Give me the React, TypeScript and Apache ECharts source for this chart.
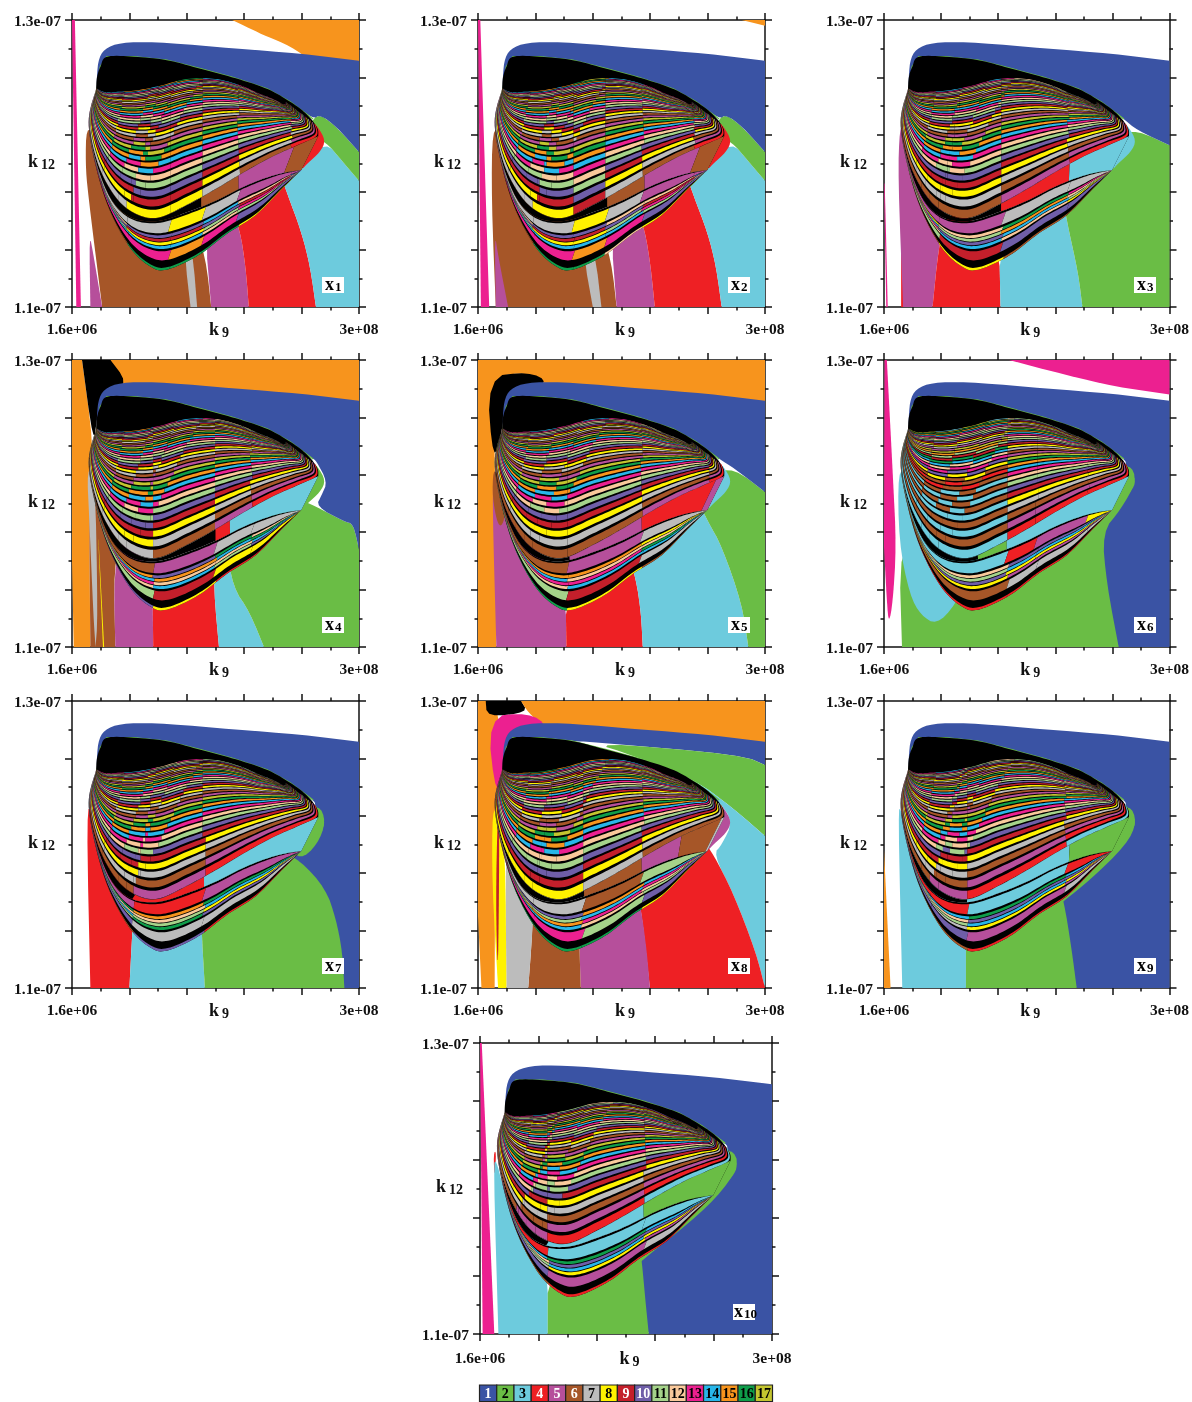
import React, { useEffect, useRef } from "react";
import * as echarts from "echarts";

type Pt = [number, number];
const FONT = '"Liberation Serif"';

// colour of each attractor period, 1..17
const periodLabels = ["1","2","3","4","5","6","7","8","9","10","11","12","13","14","15","16","17"];
const periodColors = ["#3a53a4","#6abd45","#6dcbdd","#ee2024","#b64f9b","#a65628","#bcbcbc","#fff200","#c41f2b","#6f5ea8","#a5d38a","#f9c99b","#ec2090","#28b6e9","#f7941d","#0f9d4a","#c3c52f"];
const legendTextColors = ["#fff","#000","#000","#fff","#fff","#fff","#000","#000","#fff","#fff","#000","#000","#000","#000","#000","#000","#000"];

// k9 / k12 tick labels (axes run over the panel's fractional range 0..100)
const k9Ends = ["1.6e+06", "3e+08"];
const k12Ends = ["1.1e-07", "1.3e-07"];

// Shared outlines, as % of the axis ranges
const capTop: Pt[] = [[8.7,75.6],[8.6,80],[9.3,87],[12.2,90.7],[19.2,92.4],[33,92.1],[56.4,90.1],[79.7,88.3],[100,85.8]];
const hullEdge: Pt[] = [[84,65.5],[76,71.5],[68,76],[56,80],[44.8,83],[33,86],[21.5,87.2],[12.2,87.2],[9.9,83.7],[8.7,75.6]];
const tearTop: Pt[] = [[8.4,76],[8.7,80],[9.9,83.7],[12.2,87.2],[21.5,87.2],[33,86],[44.8,83],[56,80],[68,76],[76,71.5],[80.5,68.3],[83.5,65.3],[85.6,62],[85.8,59.5]];
const hookShape: Pt[] = [[78,60],[84,64],[85.5,63],[88.4,58],[86.5,54],[82,50],[79.9,47.7],[75,50]];

const lobeOuter: Pt[] = [[8.4,76],[5.8,64.5],[8.3,49],[13,34],[20,21],[27,14.3],[33,13],[44,18],[54,25.5],[64,32],[73,41],[79.9,47.7]];
const lobeInner: Pt[] = [[8.4,76],[6,64],[8.7,49.5],[14,37],[21,31],[30,30],[40,33],[50,37],[60,42],[69,45.5],[75,47],[79.9,47.7]];
const gapUpper: Pt[] = [[8.4,76],[6.2,64],[9,50],[15,38.5],[22,32.5],[30,31],[40,35.5],[50,41],[60,47],[70,52.5],[79,56.5],[85.8,59.5]];
const upperOuter: Pt[] = [[8.4,76],[6.2,64],[9,50],[15,38.5],[22,32.5],[30,31],[40,35.5],[50,41],[60,47],[70,52.5],[79,56.5],[85.3,59.5],[85,63.5]];
const upperTop: Pt[] = [[8.7,76.5],[9,76],[11,75],[15,75],[22,75.5],[30,77],[40,79.5],[50,79.5],[58,77.5],[65,74.5],[70,72.5],[74,70.5],[74.5,71.5]];

// stripe widths, bottom to top
const upperWidths = [9,7.5,6.5,6,5.5,5,4.6,4.2,3.8,3.5,3.2,3,2.8,2.6,2.4,2.2,2.1,2,1.8,1.7,1.6,1.5,1.4,1.3,1.2,1.1,1,1,0.9,0.9,0.8,0.8,0.7,0.7];
const lowerSlots: [number, number][] = [[0,0.8],[-1,2.4],[1,3],[-1,0.8],[2,1],[-1,0.3],[3,1],[-1,0.3],[4,1],[-1,0.3],[5,1],[-1,0.8],[6,4],[-1,0.8]];
// fan of leaning colour breaks in the upper-left of the lobe
const fanSeams: Pt[] = [[10,8],[13,14],[16,20],[19,26]];

// Large regions of each panel: [period, outline]
const blue = (lower: Pt[]): Pt[] => [...capTop, ...lower, ...hullEdge];

const regionsX1: [number, Pt[]][] = [
  [15,[[55.8,100],[62,97],[68,94.2],[76,91],[84.3,85],[100,80],[100,100]]],
  [13,[[0,100],[1,100],[3.1,0],[1.5,0]]],
  [6,[[5,62.8],[4.7,50],[5.5,40],[10.5,0],[48.5,0],[46.6,17.4],[42,30],[30,35],[15,50],[8,60]]],
  [5,[[6.4,0],[10.5,0],[7.5,18],[6,26]]],
  [7,[[39,20],[41.3,0],[43.6,0],[42,20]]],
  [5,[[48.5,0],[61.6,0],[60.5,14],[58.5,27],[55,35],[46,30]]],
  [4,[[61.6,0],[85,0],[83,14],[80,26],[75,39.5],[72,48],[55,35],[58.5,27],[60.5,14]]],
  [3,[[85,0],[100,0],[100,44],[94,51],[88.4,57.6],[80,50],[72,48],[75,39.5],[80,26],[83,14]]],
  [2,[[100,44],[100,54],[92,63],[85,68],[82,60],[88.4,57.6],[94,51]]],
  [1,blue([[100,54],[92,63],[86.5,67]])],
];
const regionsX2: [number, Pt[]][] = [
  [15,[[91.9,100],[100,100],[100,98]]],
  [13,[[0,100],[0.8,100],[3.9,0],[1,0]]],
  [6,[[5,62.8],[4.7,37],[6.2,0],[48.3,0],[46.5,16],[42,30],[30,35],[15,50],[8,60]]],
  [5,[[6.2,0],[10.5,0],[7,18],[5.8,26]]],
  [7,[[36.4,20],[40,0],[43,0],[40.7,20]]],
  [5,[[48.3,0],[61.6,0],[60.2,14],[58.1,27],[55,35],[46,30]]],
  [4,[[61.6,0],[84.9,0],[83,14],[80,26],[75,39],[72,48],[55,35],[58.1,27],[60.2,14]]],
  [3,[[84.9,0],[100,0],[100,44],[94,51],[88.4,57.6],[80,50],[72,48],[75,39],[80,26],[83,14]]],
  [2,[[100,44],[100,54],[92,63],[85,68],[82,60],[88.4,57.6],[94,51]]],
  [1,blue([[100,54],[92,63],[86.5,67]])],
];
const regionsX3: [number, Pt[]][] = [
  [13,[[0,43],[0.3,43],[1.3,0],[0.8,0]]],
  [4,[[6,0],[6.9,0],[6,40]]],
  [5,[[5.5,62.8],[4.9,45],[6.7,0],[17,0],[19,19.8],[22,35],[12,50],[7,62]]],
  [4,[[17,0],[40.8,0],[40.3,25],[22,35],[19,19.8]]],
  [3,[[40.8,0],[69.5,0],[68,12],[64,30],[62,42],[40.3,25]]],
  [2,[[69.5,0],[100,0],[100,56.4],[88.6,61.6],[82,60],[76,48],[62,42],[64,30],[68,12]]],
  [1,blue([[100,56.4],[88.6,61.6]])],
];
const regionsX4: [number, Pt[]][] = [
  [15,[[0.6,0],[6.4,0],[5.8,61],[7.5,70.3],[3.5,100],[0,100],[0,30]]],
  [15,[[13.4,100],[100,100],[100,80],[79.7,85],[56.4,87],[33,89],[17,90]]],
  [0,[[3.5,100],[13.4,100],[19.2,92.4],[14,88],[9.9,85],[8.7,79.7],[7.5,70.3]]],
  [6,[[6.4,0],[15.1,0],[14.5,28],[18,40],[8,62],[5.8,61]]],
  [7,[[5.2,62],[6,45],[7.5,10],[8.2,0],[9,10],[8,62]]],
  [8,[[10.8,0],[11.2,0],[8.6,50]]],
  [5,[[15.1,0],[28.3,0],[28,25],[18,40],[14.5,26]]],
  [4,[[28.3,0],[51.2,0],[49.4,20],[50,30],[28,25]]],
  [3,[[49.4,20],[51.2,0],[66.9,0],[62,12],[56,21],[54,35],[50,30]]],
  [2,[[100,0],[100,34],[98,43],[95,43.6],[85,49],[78,52],[54,35],[56,21],[62,12],[66.9,0]]],
  [1,blue([[100,34],[98,43],[95,43.6],[85,49],[87,53],[89,57.6],[85,65]])],
];
const regionsX5: [number, Pt[]][] = [
  [15,[[0,0],[6.4,0],[6,63],[5,94],[17.5,96],[25,89],[33,89],[56.4,87],[79.7,85],[100,80],[100,100],[0,100]]],
  [0,[[3,94],[17.5,96],[25,92.2],[14,87],[9,82],[8.5,76],[5.3,63.5]]],
  [5,[[6.4,0],[30.8,0],[30.5,20],[20,35],[10,50],[5.5,62],[5,50]]],
  [6,[[5.3,62],[5,52],[7,42],[9,43],[9.5,50],[7,60]]],
  [4,[[30.8,0],[57.4,0],[56.8,12],[55,24],[52,33],[30.5,20]]],
  [3,[[57.4,0],[94.2,0],[92,15],[85,35],[80,44],[76,52],[52,33],[55,24],[56.8,12]]],
  [2,[[94.2,0],[100,0],[100,54],[89,62.5],[82,60],[76,52],[80,44],[85,35],[92,15]]],
  [1,blue([[100,54],[89,62.5]])],
];
const regionsX6: [number, Pt[]][] = [
  [13,[[0.2,100],[1,100],[3.2,58],[4.3,35],[3.1,15.7],[1.7,8],[1,15.7],[0,35]]],
  [13,[[43.8,100],[100,100],[100,88],[81,90.7],[63.6,94.8]]],
  [1,[...capTop,[100,0],[82.2,0],[70,25],[72,45],[84,55],[85,64],...hullEdge]],
  [2,[[6.3,0],[82.2,0],[78,22],[76.4,40],[83,48],[88.6,58],[86,64],[80,60],[70,45],[45,28],[30,25],[17,35],[5.2,36.6]]],
  [3,[[4.9,62],[5.2,36.6],[9,18],[13,11],[18.3,7.8],[25,14.5],[32,30],[40,34],[20,45],[8,60]]],
];
const regionsX7: [number, Pt[]][] = [
  [4,[[5,62.6],[6.4,0],[20,0],[21,19.5],[22,35],[15,50],[7,62]]],
  [3,[[20,0],[46.3,0],[45.3,17],[45,28],[22,35],[21,19.5]]],
  [1,[...capTop,[100,0],[94.9,0],[80,30],[75,46],[84,55],[85,64],...hullEdge]],
  [2,[[46.3,0],[94.9,0],[94.2,12.6],[92,24],[88.4,34.6],[79.5,44.5],[72,48],[45,28],[45.3,17]]],
  [2,[[79.5,44.5],[85.5,50],[88.5,58],[86,64],[80,60],[75,50]]],
];
const regionsX8: [number, Pt[]][] = [
  [15,[[1.2,0],[5.8,0],[6,60],[8,88],[6,100],[0,100],[0,25]]],
  [0,[[2.7,100],[15,100],[17.5,96],[3.1,94.4]]],
  [15,[[15,100],[100,100],[100,80],[79.7,85],[56.4,87],[33,89],[24,90],[17.5,96]]],
  [13,[[3.1,94.4],[17.5,96],[25,91],[14,85],[10,78],[6.4,65]]],
  [1,[...capTop,[100,77.7],[91.9,81.2],[39,85.8],...hullEdge.slice(5)]],
  [2,[[39,85.8],[91.9,81.2],[100,77.7],[100,53],[89,62.6],[75,73],[54,81]]],
  [3,[[100,53],[100,0],[97,12],[89,33],[82,46.6],[85,50],[88.8,58],[84,65],[75,71.5],[60,78.5],[54,81],[75,73],[89,62.6]]],
  [4,[[59.9,0],[57,26.5],[55,35],[78,52],[82,46.6],[89,33],[97,12],[100,0]]],
  [5,[[35.8,0],[59.9,0],[58.8,13],[57,26.5],[55,35],[35,25]]],
  [6,[[17.5,0],[35.8,0],[35,25],[19,32],[19,20]]],
  [7,[[9.9,0],[17.5,0],[19,20],[20,40],[12,50],[9.5,50]]],
  [8,[[5,63],[4.9,36],[7,0],[9.9,0],[9.5,50],[7,60]]],
  [9,[[6.8,60],[6.2,30],[6.9,3],[7.3,30],[7.4,60]]],
];
const regionsX9: [number, Pt[]][] = [
  [15,[[0,48],[0,0],[2.3,0]]],
  [3,[[4.9,62.6],[6.4,0],[28.7,0],[28.7,25],[19,35],[10,50],[6,62]]],
  [1,[...capTop,[100,0],[67.5,0],[55,25],[70,45],[84,55],[85,64],...hullEdge]],
  [2,[[28.7,0],[67.5,0],[65.5,15],[63,30.3],[60,40],[28.7,25]]],
  [2,[[60,28],[63,30.3],[72,37.5],[85,50],[88.6,58],[86,64],[80,60],[72,48],[58,35]]],
];
const regionsX10: [number, Pt[]][] = [
  [13,[[0,100],[0.6,100],[4.9,0],[0.9,0]]],
  [4,[[4.6,62],[5.6,63],[5,53]]],
  [3,[[4.6,58],[6.3,0],[23.2,0],[23.2,25],[15,38],[8,50],[5.5,60]]],
  [1,[...capTop,[100,0],[57.8,0],[50,25],[70,45],[84,55],[85,64],...hullEdge]],
  [2,[[23.2,0],[57.8,0],[56.6,12],[55.4,25.3],[54,35],[23.2,25]]],
  [2,[[50,20],[55.4,25.3],[68,35.2],[81,46.6],[89,58],[86,64],[80,60],[72,48],[60,35],[50,30]]],
];

// Vertical colour seams: [k9 position, lean towards the top]
const seamsX1: Pt[] = [[19,11],[34,0],[45,0],[57.5,0],[76,0]];
const seamsX2: Pt[] = [[19,10],[33,0],[44,0],[57,0],[75,0]];
const seamsX3: Pt[] = [[19,8],[41,0],[64,0]];
const seamsX4: Pt[] = [[28,0],[49.6,0],[62,0]];
const seamsX5: Pt[] = [[31,0],[56.6,0],[80,0]];
const seamsX6: Pt[] = [[42.7,0],[53,0],[71,0]];
const seamsX7: Pt[] = [[21,8],[45.5,0]];
const seamsX8: Pt[] = [[19,8],[36,0],[57,0]];
const seamsX9: Pt[] = [[16,12],[29,0],[63,0]];
const seamsX10: Pt[] = [[12,14],[23,0],[56,0]];

// Upper-lobe stripes per column: a starting period (rising by one per stripe) or an explicit cycle
const upperX1 = [7,8,8,7,6,4];
const upperX2 = [7,8,9,7,6,4];
const upperX3 = [6,6,5,4];
const upperX4 = [7,6,5,4];
const upperX5 = [6,6,5,4];
const upperX6: (number | number[])[] = [[3,6,3,6,3,6,3,6,3,6,4,6,8,10,13,12,14,16,9,11,15,17,5,7,8,9,10,11,12,13,14,15,16,17],4,4,4];
const upperX7 = [6,5,4];
const upperX8 = [8,8,7,6];
const upperX9 = [6,5,4,3];
const upperX10 = [6,5,4,3];

// Tongue stripes per column: [edge, main, four thin, main]
const lowerX1 = [[6,13,14,11,10,12,7],[16,13,14,8,9,10,7],[16,15,14,8,9,10,8],[16,13,12,11,10,14,7],[8,10,11,13,9,12,5],[8,10,11,12,13,14,5]];
const lowerX2 = [[6,13,14,11,10,12,7],[16,13,14,8,9,10,7],[16,15,14,8,9,10,8],[12,13,14,11,10,12,7],[8,10,11,13,9,12,5],[8,10,11,12,13,14,5]];
const lowerX3 = [[6,11,12,13,14,8,5],[8,9,14,10,11,12,5],[6,10,12,14,15,16,7],[6,10,8,11,12,13,7]];
const lowerX4 = [[10,11,12,13,14,15,6],[8,9,14,12,15,10,5],[4,8,11,12,14,16,7],[4,8,10,14,16,12,7]];
const lowerX5 = [[16,11,12,13,14,15,6],[8,9,14,13,12,15,5],[6,7,14,16,12,8,7],[6,7,14,8,12,16,8]];
const lowerX6 = [[4,6,8,10,11,12,3],[4,7,5,8,14,10,4],[4,7,5,8,14,10,5],[4,7,5,8,14,10,8]];
const lowerX7 = [[6,10,11,14,12,16,5],[10,7,16,11,12,15,4],[4,7,10,8,14,16,5]];
const lowerX8 = [[16,13,14,15,11,10,7],[16,13,14,15,11,10,7],[16,11,12,13,14,15,6],[8,10,11,12,13,14,11]];
const lowerX9 = [[6,10,7,11,12,14,4],[6,10,7,11,12,14,4],[4,5,8,14,10,16,3],[4,7,5,8,10,14,4]];
const lowerX10 = [[6,10,7,11,12,14,4],[6,10,7,11,12,14,4],[4,5,8,14,10,16,3],[4,7,5,8,10,14,3]];

// Band between tongue and upper lobe: [from k9, period]
const gapX1: Pt[] = [[44,6],[58,5],[75,6]];
const gapX2: Pt[] = [[44,6],[58,5],[75,6]];
const gapX3: Pt[] = [[41,4],[64,3]];
const gapX4: Pt[] = [[49.6,4],[55,3]];
const gapX5: Pt[] = [[31,5],[56.6,4],[80,5]];
const gapX6: Pt[] = [[32,2],[42.7,3]];
const gapX7: Pt[] = [[21,4],[45.5,3]];
const gapX8: Pt[] = [[36,6],[57,5],[70,6],[82,7]];
const gapX9: Pt[] = [[29,3],[64,2]];
const gapX10: Pt[] = [[23,3],[56,2]];

const tags = ["1","2","3","4","5","6","7","8","9","10"];
const regionLists = [regionsX1,regionsX2,regionsX3,regionsX4,regionsX5,regionsX6,regionsX7,regionsX8,regionsX9,regionsX10];
const seamLists = [seamsX1,seamsX2,seamsX3,seamsX4,seamsX5,seamsX6,seamsX7,seamsX8,seamsX9,seamsX10];
const upperLists: (number | number[])[][] = [upperX1,upperX2,upperX3,upperX4,upperX5,upperX6,upperX7,upperX8,upperX9,upperX10];
const lowerLists = [lowerX1,lowerX2,lowerX3,lowerX4,lowerX5,lowerX6,lowerX7,lowerX8,lowerX9,lowerX10];
const gapLists = [gapX1,gapX2,gapX3,gapX4,gapX5,gapX6,gapX7,gapX8,gapX9,gapX10];
const hookPeriods = [4,4,3,2,3,2,2,5,2,2];

const panelBoxes = [
  [72,20,287,287],[478,20,287,287],[884,20,287,287],
  [72,360,287,287],[478,360,287,287],[884,360,287,287],
  [72,701,287,287],[478,701,287,287],[884,701,287,287],
  [480,1043,292,291],
];

type Poly = { fill: string; pts: Pt[]; line?: boolean };
const colorOf = (p: number) => (p === 0 ? "#000" : periodColors[p - 1]);
const STEPS = 110;

// Rounds polygon corners, leaving those on the panel's frame sharp
function rounded(pts: Pt[]): Pt[] {
  const onFrame = (p: Pt) => p[0] <= 0 || p[0] >= 100 || p[1] <= 0 || p[1] >= 100;
  let cur = pts;
  for (let it = 0; it < 2; it++) {
    const next: Pt[] = [];
    cur.forEach((p, i) => {
      const a = cur[(i - 1 + cur.length) % cur.length], b = cur[(i + 1) % cur.length];
      if (onFrame(p)) { next.push(p); return; }
      next.push([p[0] + (a[0] - p[0]) * 0.25, p[1] + (a[1] - p[1]) * 0.25]);
      next.push([p[0] + (b[0] - p[0]) * 0.25, p[1] + (b[1] - p[1]) * 0.25]);
    });
    cur = next;
  }
  return cur;
}

function sample(nodes: Pt[]): Pt[] {
  const out: Pt[] = [];
  const n = nodes.length - 1;
  for (let j = 0; j <= STEPS; j++) {
    const f = (j / STEPS) * n;
    const i = Math.min(Math.floor(f), n - 1);
    const t = f - i;
    const p0 = nodes[Math.max(i - 1, 0)], p1 = nodes[i], p2 = nodes[i + 1], p3 = nodes[Math.min(i + 2, n)];
    const cr = (a: number, b: number, c: number, d: number) =>
      0.5 * (2 * b + (c - a) * t + (2 * a - 5 * b + 4 * c - d) * t * t + (3 * b - a - 3 * c + d) * t * t * t);
    out.push([cr(p0[0], p1[0], p2[0], p3[0]), cr(p0[1], p1[1], p2[1], p3[1])]);
  }
  return out;
}

const taper = (t: number) => (t < 0.08 ? 0.55 + (0.45 * t) / 0.08 : t > 0.8 ? 1 - (0.4 * (t - 0.8)) / 0.2 : 1);

function band(a: Pt[], b: Pt[], s0: number, s1: number, seams: Pt[], colorFor: (col: number, fan: number) => number, lean: number, out: Poly[], fans: Pt[] = [], tapered = false) {
  const mid = (s0 + s1) / 2;
  const at = (j: number, s: number): Pt => {
    const k = tapered ? mid + (s - mid) * taper(j / STEPS) : s;
    return [a[j][0] + (b[j][0] - a[j][0]) * k, a[j][1] + (b[j][1] - a[j][1]) * k];
  };
  let start = 0, col = 0, fan = 0, opened = false;
  const flush = (end: number) => {
    if (colorFor(col, fan) === 0) return;
    const pts: Pt[] = [];
    for (let j = start; j <= end; j++) pts.push(at(j, s0));
    for (let j = end; j >= start; j--) pts.push(at(j, s1));
    out.push({ fill: colorOf(colorFor(col, fan)), pts });
  };
  for (let j = 0; j <= STEPS; j++) {
    const p0 = at(j, s0), p1 = at(j, s1);
    const x = (p0[0] + p1[0]) / 2;
    let c = 0, f = 0;
    seams.forEach((sm) => { if (x >= sm[0] + sm[1] * lean * s0) c++; });
    fans.forEach((sm) => { if (x >= sm[0] + sm[1] * s0) f++; });
    if (!opened) { col = c; fan = f; opened = true; start = j; continue; }
    if (c > col || f > fan) {
      flush(j);
      start = j;
      col = Math.max(col, c);
      fan = Math.max(fan, f);
    }
  }
  flush(STEPS);
}

function buildPanel(i: number): Poly[] {
  const out: Poly[] = [];
  regionLists[i].forEach(([p, pts]) => out.push({ fill: colorOf(p), pts: rounded(pts) }));
  out.push({ fill: periodColors[1], pts: hullEdge, line: true });
  out.push({ fill: colorOf(hookPeriods[i]), pts: rounded(hookShape) });
  const loA = sample(lobeOuter), loB = sample(lobeInner), gapA = sample(gapUpper), upA = sample(upperOuter), upB = sample(upperTop);
  out.push({ fill: "#000", pts: [...sample(tearTop), ...gapA.slice().reverse()] });
  out.push({ fill: "#000", pts: [...loA, ...loB.slice().reverse()] });
  out.push({ fill: "#000", pts: [...loB, ...gapA.slice().reverse()] });
  // band between the lobes
  const gap = gapLists[i];
  band(loB, gapA, 0, 1, gap.map((g) => [g[0], 0] as Pt), (c) => (c === 0 ? 0 : gap[c - 1][1]), 0, out);
  // tongue
  const lowerTotal = lowerSlots.reduce((t, s) => t + s[1], 0);
  let acc = 0;
  lowerSlots.forEach(([slot, w]) => {
    const s0 = acc / lowerTotal, s1 = (acc + w) / lowerTotal;
    acc += w;
    if (slot >= 0) band(loA, loB, s0, s1, seamLists[i], (c) => lowerLists[i][Math.min(c, lowerLists[i].length - 1)][slot], 0, out);
  });
  // upper lobe
  const total = upperWidths.reduce((t, w) => t + w * 1.35 + 0.45, 0);
  acc = 0.4;
  upperWidths.forEach((w, k) => {
    const s0 = acc / total, s1 = (acc + w) / total;
    acc += w * 1.35 + 0.45;
    const spec = (c: number, f: number) => {
      const e = upperLists[i][Math.min(c, upperLists[i].length - 1)];
      const shift = k >= 5 && f > 0 && f < 4 ? f % 2 : 0;
      if (Array.isArray(e)) return e[(k + shift) % e.length];
      let n = e + k + shift;
      while (n > 17) n -= 13;
      return n;
    };
    band(upA, upB, s0, Math.min(s1, 1), seamLists[i], spec, 1, out, fanSeams, true);
  });
  return out;
}

function buildOption() {
  const grid: any[] = [], xAxis: any[] = [], yAxis: any[] = [], series: any[] = [], graphic: any[] = [];
  const axisLine = { show: true, onZero: false, lineStyle: { color: "#111", width: 1.5 } };
  const tick = { show: true, length: 7, lineStyle: { color: "#111", width: 1.5 } };
  const minor = { show: true, splitNumber: 2, length: 3.5, lineStyle: { color: "#111", width: 1.5 } };
  const labelStyle = { color: "#111", fontFamily: FONT, fontWeight: "bold" as const, fontSize: 15.5 };
  const nameRich = {
    k: { fontFamily: FONT, fontWeight: "bold" as const, fontSize: 18, color: "#111" },
    s: { fontFamily: FONT, fontWeight: "bold" as const, fontSize: 14, color: "#111", padding: [7, 0, 0, 3] },
  };
  panelBoxes.forEach((box, i) => {
    const [left, top, width, height] = box;
    const drop = i === 9 ? 2 : 0;
    grid.push({ left, top, width, height, show: false });
    const common = { type: "value", min: 0, max: 100, interval: 20, gridIndex: i, axisLine, axisTick: tick, minorTick: minor, splitLine: { show: false }, minorSplitLine: { show: false } };
    xAxis.push({
      ...common, position: "bottom",
      axisLabel: { ...labelStyle, margin: 13 + drop, showMinLabel: true, showMaxLabel: true, hideOverlap: false, formatter: (v: number) => (v === 0 ? k9Ends[0] : v === 100 ? k9Ends[1] : "") },
      name: "{k|k}{s|9}", nameLocation: "middle", nameGap: 11 + drop, nameMoveOverlap: false,
      nameTextStyle: { rich: nameRich, padding: [0, 0, 0, 7] },
    });
    xAxis.push({ ...common, position: "top", axisLabel: { show: false } });
    yAxis.push({
      ...common, position: "left",
      axisLabel: { ...labelStyle, margin: 11, showMinLabel: true, showMaxLabel: true, formatter: (v: number) => (v === 0 ? k12Ends[0] : v === 100 ? k12Ends[1] : "") },
      name: "{k|k}{s|12}", nameLocation: "middle", nameGap: 17, nameRotate: 0, nameMoveOverlap: false,
      nameTextStyle: { rich: nameRich, align: "right", padding: [0, 0, 5, 0] },
    });
    yAxis.push({ ...common, position: "right", axisLabel: { show: false } });
    const polys = buildPanel(i);
    series.push({
      type: "custom", xAxisIndex: i * 2, yAxisIndex: i * 2, clip: true, silent: true, progressive: 0,
      data: polys.map((_, k) => [k]),
      renderItem: (params: any, api: any) => {
        const p = polys[params.dataIndex];
        const points = p.pts.map((q) => api.coord(q));
        if (p.line) return { type: "polyline", silent: true, shape: { points }, style: { fill: "none", stroke: p.fill, lineWidth: 1.4 } };
        return { type: "polygon", silent: true, shape: { points }, style: { fill: p.fill } };
      },
    });
    graphic.push({ type: "rect", silent: true, shape: { x: left + (i === 9 ? 253 : 250), y: top + height - 30, width: 22, height: 16 }, style: { fill: "#fff" }, z: 20 });
    graphic.push({
      type: "text", silent: true, z: 21, x: left + (i === 9 ? 253 : 250) + (i === 9 ? 1 : 3), y: top + height - 32,
      style: {
        text: `{a|x}{b|${tags[i]}}`,
        rich: {
          a: { fontFamily: FONT, fontWeight: "bold", fontSize: 18, fill: "#000" },
          b: { fontFamily: FONT, fontWeight: "bold", fontSize: 13, fill: "#000", padding: [5, 0, 0, 1] },
        },
      },
    });
  });
  // period key
  const li = panelBoxes.length;
  grid.push({ left: 479.5, top: 1385, width: 293, height: 16.5, show: false });
  const hidden = { type: "value", gridIndex: li, show: false, min: 0 };
  xAxis.push({ ...hidden, max: 17 });
  yAxis.push({ ...hidden, max: 1 });
  series.push({
    type: "custom", xAxisIndex: li * 2, yAxisIndex: li * 2, silent: true, clip: false,
    data: periodLabels.map((_, k) => [k]),
    renderItem: (params: any, api: any) => {
      const k = params.dataIndex;
      const a = api.coord([k, 1]), b = api.coord([k + 1, 0]);
      return {
        type: "group", silent: true,
        children: [
          { type: "rect", shape: { x: a[0], y: a[1], width: b[0] - a[0], height: b[1] - a[1] }, style: { fill: periodColors[k], stroke: "#222", lineWidth: 1.2 } },
          { type: "text", style: { text: periodLabels[k], x: (a[0] + b[0]) / 2, y: (a[1] + b[1]) / 2 + 0.5, fill: legendTextColors[k], font: `bold 14px ${FONT}`, textAlign: "center", textVerticalAlign: "middle" } },
        ],
      };
    },
  });
  return { animation: false, backgroundColor: "#fff", grid, xAxis, yAxis, series, graphic };
}

export default function App() {
  const ref = useRef<HTMLDivElement>(null);
  useEffect(() => {
    const chart = echarts.init(ref.current!, undefined, { renderer: "svg" });
    chart.setOption(buildOption() as any);
    return () => chart.dispose();
  }, []);
  return <div ref={ref} style={{ position: "absolute", left: 0, top: 0, width: 1192, height: 1402, filter: "blur(0.35px)" }} />;
}
